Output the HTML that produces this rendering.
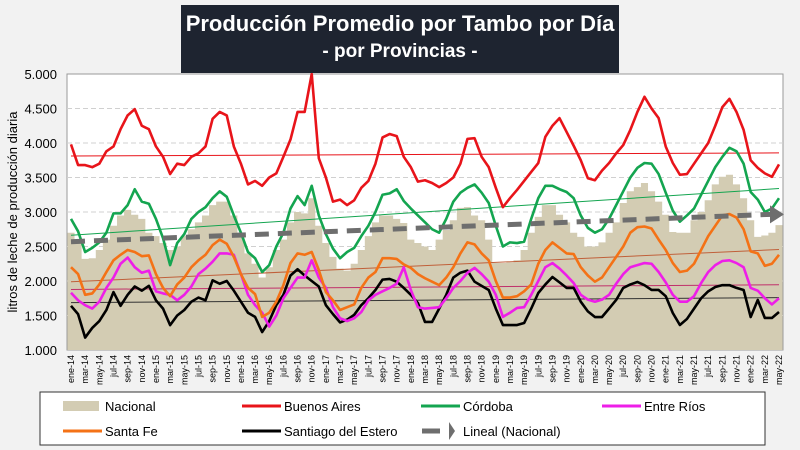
<!DOCTYPE html>
<html><head><meta charset="utf-8"><style>
body{margin:0;background:#f2f2f2;}
#wrap{position:relative;width:800px;height:450px;overflow:hidden;font-family:"Liberation Sans",sans-serif;}
#title{position:absolute;left:181px;top:5px;width:438px;height:68px;background:#1e2430;color:#fff;text-align:center;font-weight:bold;}
#title .t1{font-size:22px;margin-top:6px;}
#title .t2{font-size:19px;margin-top:4px;}
svg text{font-family:"Liberation Sans",sans-serif;}
</style></head><body>
<div id="wrap">
<svg id="chart" width="800" height="450" style="position:absolute;left:0;top:0"></svg>
<div id="title"><div class="t1">Producción Promedio por Tambo por Día</div><div class="t2">- por Provincias -</div></div>
</div>
<script>
const monthNames=["ene","feb","mar","abr","may","jun","jul","ago","sep","oct","nov","dic"];
const nacional=[2700,2550,2320,2330,2450,2600,2800,2950,3030,2960,2900,2700,
2650,2550,2450,2500,2650,2750,2850,2950,3100,3150,3150,2950,
2700,2400,2250,2050,2200,2450,2600,2850,3000,2980,3200,2800,
2550,2350,2180,2150,2250,2450,2650,2850,2950,2950,2900,2840,
2600,2550,2500,2450,2600,2740,2880,3060,3070,2950,2880,2600,
2260,2260,2270,2300,2450,2700,2930,3100,3100,2960,2850,2700,
2640,2500,2500,2560,2700,2850,3130,3300,3360,3420,3300,3150,
2960,2710,2700,2700,2880,3000,3170,3400,3510,3540,3400,3200,
2880,2640,2660,2700,2810];
const buenosAires=[3980,3680,3680,3650,3700,3880,3950,4200,4400,4490,4250,4200,
3950,3800,3550,3700,3680,3800,3850,3950,4350,4450,4400,3950,
3700,3400,3450,3380,3500,3560,3800,4050,4450,4450,5000,3780,
3500,3150,3180,3100,3170,3350,3450,3700,4080,4130,4100,3800,
3650,3440,3460,3420,3360,3420,3500,3700,4060,4070,3800,3650,
3350,3070,3200,3320,3450,3580,3710,4090,4250,4360,4160,3960,
3750,3490,3460,3600,3710,3850,3970,4190,4450,4670,4500,4360,
3950,3710,3540,3550,3700,3850,4000,4250,4520,4640,4450,4190,
3750,3640,3560,3510,3690];
const cordoba=[2900,2720,2420,2480,2560,2700,2980,2980,3100,3330,3150,3120,
2900,2620,2230,2550,2680,2900,3000,3070,3200,3300,3220,2950,
2700,2420,2330,2130,2230,2500,2700,3050,3230,3100,3380,2950,
2680,2470,2330,2420,2480,2650,2800,3000,3250,3270,3330,3160,
3050,2950,2850,2750,2700,2900,3150,3280,3350,3400,3280,3130,
2800,2500,2560,2550,2570,2900,3200,3380,3380,3330,3290,3200,
2950,2770,2700,2750,2900,3100,3300,3500,3640,3710,3700,3550,
3280,3020,2860,2950,3050,3250,3450,3650,3800,3930,3880,3700,
3290,3180,3000,3050,3200];
const entreRios=[1830,1720,1650,1600,1700,1900,2050,2250,2340,2200,2120,2150,
1850,1820,1800,1720,1800,1920,2100,2180,2280,2400,2400,2380,
2100,1800,1650,1540,1340,1500,1750,1900,2050,2050,2300,2050,
1900,1620,1460,1420,1460,1550,1720,1800,1850,1900,1960,2200,
1870,1620,1600,1610,1620,1750,1900,2000,2120,2190,2100,1990,
1800,1480,1540,1610,1620,1800,2000,2200,2260,2180,2080,1970,
1800,1730,1700,1730,1800,1960,2100,2200,2230,2260,2250,2130,
1980,1800,1700,1700,1780,1970,2130,2230,2290,2300,2260,2200,
1900,1860,1750,1660,1750];
const santaFe=[2200,2100,1800,1820,1950,2130,2300,2380,2450,2420,2360,2370,
2100,1900,1780,1950,2050,2200,2300,2380,2520,2600,2540,2350,
2100,1900,1810,1480,1540,1700,1940,2260,2400,2380,2420,2160,
1840,1720,1580,1620,1660,1900,2050,2130,2330,2330,2320,2240,
2190,2100,2040,1990,1940,2050,2200,2400,2560,2530,2400,2300,
2000,1760,1760,1780,1850,1950,2250,2450,2560,2480,2400,2390,
2200,2080,1990,2050,2200,2350,2500,2700,2780,2790,2760,2600,
2450,2260,2130,2150,2250,2450,2650,2800,2950,2970,2920,2750,
2430,2400,2220,2250,2380];
const santiago=[1640,1520,1180,1320,1420,1580,1840,1640,1800,1920,1860,1930,
1720,1600,1360,1500,1580,1700,1760,1720,2010,1960,2000,1860,
1700,1540,1480,1260,1420,1650,1800,2080,2170,2080,2000,1920,
1650,1520,1400,1440,1510,1650,1750,1870,2020,2030,1990,1900,
1800,1680,1406,1406,1600,1800,2050,2120,2150,1990,1930,1870,
1600,1362,1362,1362,1391,1600,1826,1950,2058,1980,1900,1900,
1700,1560,1478,1478,1600,1725,1900,1950,1986,1940,1870,1870,
1780,1536,1362,1450,1600,1750,1850,1913,1940,1940,1900,1870,
1478,1725,1464,1464,1550];
const yTicks=[1000,1500,2000,2500,3000,3500,4000,4500,5000];

const svg=document.getElementById('chart');
const NS='http://www.w3.org/2000/svg';
const X0=67,X1=783,Y0=74,Y1=350,N=nacional.length;
const step=(X1-X0-8)/(N-1);
function xs(i){return X0+4+i*step;}
function ys(v){return Y1-(v-1000)/4000*(Y1-Y0);}
function mk(tag,attrs,parent){const e=document.createElementNS(NS,tag);for(const k in attrs)e.setAttribute(k,attrs[k]);(parent||svg).appendChild(e);return e;}

let bg=mk('rect',{x:X0,y:Y0,width:X1-X0,height:Y1-Y0,fill:'#fff',stroke:'#999','stroke-width':1});


yTicks.forEach(v=>{
  if(v>1000&&v<5000){let g=mk('line',{x1:X0,x2:X1,y1:ys(v),y2:ys(v),stroke:'#d0d0d0','stroke-dasharray':'5,3'});
  
  }
  let t=mk('text',{x:X0-10,y:ys(v)+5,'text-anchor':'end','font-size':13,fill:'#000'});
  t.textContent=String(v).replace(/(\d)(\d{3})$/,'$1.$2');
  
  
});
let yt=mk('text',{x:0,y:0,transform:'translate(17,212) rotate(-90)','text-anchor':'middle','font-size':13});
yt.textContent='litros de leche de producción diaria';



let d='M'+(xs(0)-step/2)+','+Y1;
nacional.forEach((v,i)=>{d+=' L'+(xs(i)-step/2)+','+ys(v)+' L'+(xs(i)+step/2)+','+ys(v);});
d+=' L'+(xs(N-1)+step/2)+','+Y1+' Z';
let area=mk('path',{d:d,fill:'#d3ccb3'});



function trend(arr){let n=arr.length,sx=0,sy=0,sxy=0,sxx=0;arr.forEach((v,i)=>{sx+=i;sy+=v;sxy+=i*v;sxx+=i*i;});
  const b=(n*sxy-sx*sy)/(n*sxx-sx*sx),a=(sy-b*sx)/n;return [a,a+b*(n-1)];}
const series=[[buenosAires,'#e8141a','buenos-aires'],[cordoba,'#14a550','cordoba'],[santaFe,'#f47216','santa-fe'],[entreRios,'#ee1ee8','entre-rios'],[santiago,'#000','santiago-del-estero']];
const tcol={'buenos-aires':'#e8141a','cordoba':'#14a550','santa-fe':'#c0603a','entre-rios':'#c0306a','santiago-del-estero':'#333'};
series.forEach(s=>{const t=trend(s[0]);
  let l=mk('line',{x1:xs(0),x2:xs(N-1),y1:ys(t[0]),y2:ys(t[1]),stroke:tcol[s[2]],'stroke-width':1});
  
  });
series.slice().reverse().forEach(s=>{
  let p=mk('polyline',{points:s[0].map((v,i)=>xs(i)+','+ys(v)).join(' '),fill:'none',stroke:s[1],'stroke-width':2.6,'stroke-linejoin':'round'});
  
  
});
const tn=trend(nacional);
let tl=mk('line',{x1:xs(0),x2:xs(N-1)-8,y1:ys(tn[0]),y2:ys(tn[1]),stroke:'#6e6e6e','stroke-width':5,'stroke-dasharray':'14,9'});


let ar=mk('polygon',{points:(xs(N-1)-9)+','+(ys(tn[1])-9)+' '+(xs(N-1)+5)+','+ys(tn[1])+' '+(xs(N-1)-9)+','+(ys(tn[1])+9),fill:'#6e6e6e'});



for(let i=0;i<N;i+=2){
  const lab=monthNames[i%12]+'-'+(14+Math.floor(i/12));
  let t=mk('text',{x:0,y:0,transform:'translate('+(xs(i)+3)+',355) rotate(-90)','text-anchor':'end','font-size':9});
  t.textContent=lab;
  
  
}
let lb=mk('rect',{x:40,y:392,width:725,height:53,fill:'#fff',stroke:'#333','stroke-width':1});


const legend=[['Nacional','area',105,406],['Buenos Aires','#e8141a',284,406],['Córdoba','#14a550',463,406],['Entre Ríos','#ee1ee8',644,406],['Santa Fe','#f47216',105,431],['Santiago del Estero','#000',284,431],['Lineal (Nacional)','trend',463,431]];
legend.forEach(e=>{
  let g=mk('g',{});
  
  
  const x=e[2]-3;
  if(e[1]==='area')mk('rect',{x:x-39,y:e[3]-5,width:36,height:10,fill:'#d3ccb3'},g);
  else if(e[1]==='trend'){mk('line',{x1:x-38,x2:x-20,y1:e[3],y2:e[3],stroke:'#6e6e6e','stroke-width':5},g);mk('polygon',{points:(x-11)+','+(e[3]-9)+' '+(x-5)+','+e[3]+' '+(x-11)+','+(e[3]+9),fill:'#6e6e6e'},g);}
  else mk('line',{x1:x-39,x2:x,y1:e[3],y2:e[3],stroke:e[1],'stroke-width':3},g);
  let t=mk('text',{x:e[2],y:e[3]+5,'font-size':13},g);t.textContent=e[0];
});
</script>
</body></html>
